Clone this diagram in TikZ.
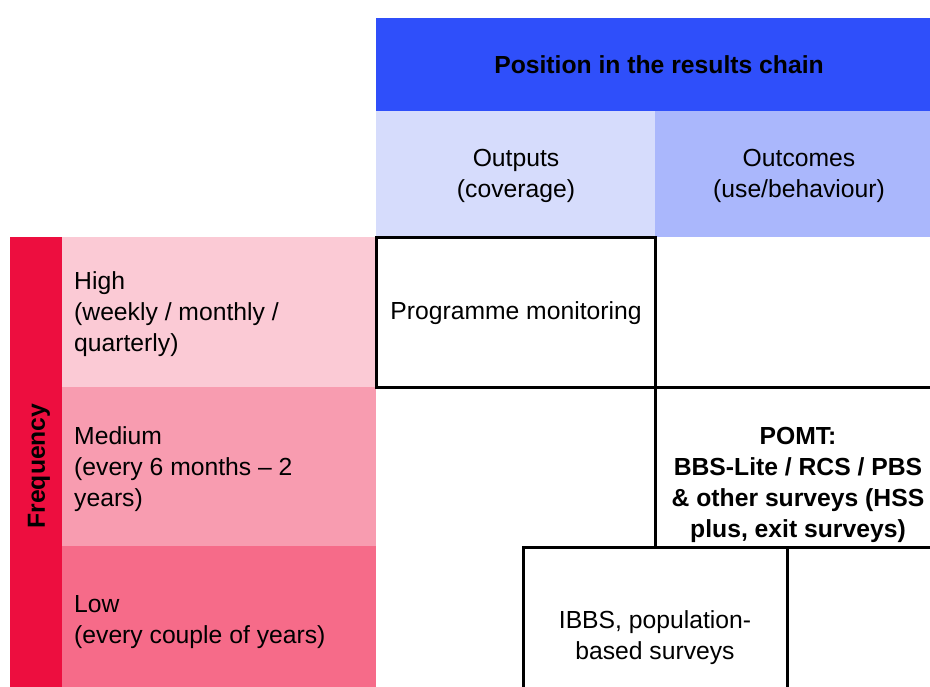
\documentclass[tikz,border=0pt]{standalone}
\usepackage{fontspec}
\setmainfont{Liberation Sans}
\usepackage{tikz}
\usetikzlibrary{positioning}

\definecolor{chainblue}{RGB}{47,79,250}
\definecolor{outputblue}{RGB}{214,220,252}
\definecolor{outcomeblue}{RGB}{170,183,252}
\definecolor{freqred}{RGB}{237,14,63}
\definecolor{highpink}{RGB}{251,202,213}
\definecolor{mediumpink}{RGB}{248,156,176}
\definecolor{lowpink}{RGB}{246,107,137}

\begin{document}
\begin{tikzpicture}[
  x=1pt, y=-1pt,
  every node/.style={font=\fontsize{24.7}{31}\selectfont, inner sep=0pt},
  head/.style={font=\fontsize{24.7}{31}\selectfont\bfseries},
  rowlabel/.style={anchor=west, align=left},
  celltext/.style={align=center},
  grid/.style={draw=black, line width=3pt, line cap=rect},
]
\useasboundingbox (0,0) rectangle (930,687);

% --- Column header (top)
\fill[chainblue] (376,18) rectangle (930,111);
\fill[outputblue] (376,111) rectangle (655,237);
\fill[outcomeblue] (655,111) rectangle (930,237);
\node[head, anchor=base] (chain) at (659,73.5) {Position in the results chain};
\node[celltext] (outputs) at (516,176) {Outputs\\(coverage)};
\node[celltext] (outcomes) at (799,176) {Outcomes\\(use/behaviour)};

% --- Row header (left)
\fill[freqred] (10,237) rectangle (62,687);
\fill[highpink] (62,237) rectangle (376,387);
\fill[mediumpink] (62,387) rectangle (376,546);
\fill[lowpink] (62,546) rectangle (376,687);
\node[head, rotate=90, anchor=base] (freq) at (45,466) {Frequency};
\node[rowlabel] (high) at (74,314.5) {High\\(weekly / monthly /\\quarterly)};
\node[rowlabel] (medium) at (74,469.5) {Medium\\(every 6 months -- 2\\years)};
\node[rowlabel] (low) at (74,622.5) {Low\\(every couple of years)};

% --- Boxes in the grid
\draw[grid] (376,238) rectangle (655,387);
\draw[grid] (655,387) -- (930,387);
\draw[grid] (655,387) -- (655,547);
\draw[grid] (523,687) -- (523,547) -- (930,547);
\draw[grid] (787,547) -- (787,687);

\node[anchor=base] (progmon) at (516,320) {Programme monitoring};
\node[head, celltext] (pomt) at (798,484.5)
  {POMT:\\BBS-Lite / RCS / PBS\\\& other surveys (HSS\\plus, exit surveys)};
\node[celltext] (ibbs) at (655,638) {IBBS, population-\\based surveys};

\end{tikzpicture}
\end{document}
